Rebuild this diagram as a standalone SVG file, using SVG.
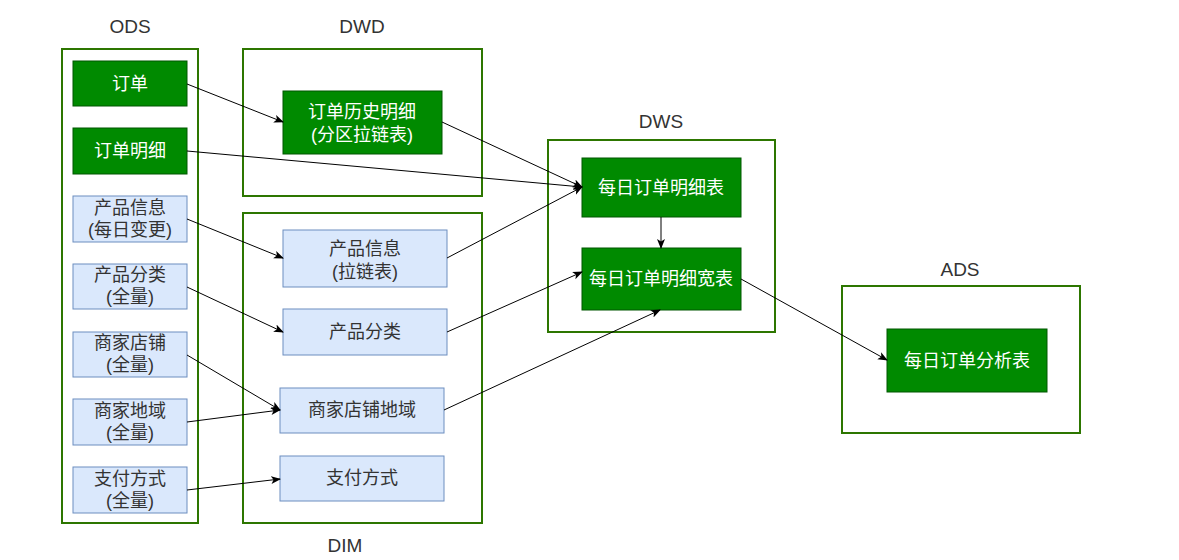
<svg xmlns="http://www.w3.org/2000/svg" width="1179" height="560" viewBox="0 0 1179 560">
<style>
.bg{fill:#ffffff}
.cont{fill:#ffffff;stroke:#2d7600;stroke-width:2}
.gn{fill:#008a00;stroke:#005700;stroke-width:1}
.bn{fill:#dae8fc;stroke:#6c8ebf;stroke-width:1}
.lbl{font-family:"Liberation Sans","Noto Sans CJK SC",sans-serif;font-size:19px;fill:#333333;text-anchor:middle}
.wt{font-family:"Liberation Sans","Noto Sans CJK SC",sans-serif;font-size:18px;fill:#ffffff;text-anchor:middle}
.bt{font-family:"Liberation Sans","Noto Sans CJK SC",sans-serif;font-size:18px;fill:#333333;text-anchor:middle}
.edge{fill:none;stroke:#000000;stroke-width:1;marker-end:url(#arr)}
</style>
<defs>
<marker id="arr" viewBox="0 0 10 10" refX="9" refY="5" markerWidth="10" markerHeight="10" markerUnits="userSpaceOnUse" orient="auto">
<path d="M0,1 L10,5 L0,9 L2.5,5 Z" fill="#000000"/>
</marker>
</defs>
<rect class="bg" x="0" y="0" width="1179" height="560"/>
<g id="containers">
<g id="ods"><rect class="cont" x="62" y="49" width="136" height="474"/><text class="lbl" x="130" y="33">ODS</text></g>
<g id="dwd"><rect class="cont" x="243" y="49" width="239" height="147"/><text class="lbl" x="362" y="33">DWD</text></g>
<g id="dim"><rect class="cont" x="243" y="213" width="239" height="310"/><text class="lbl" x="345" y="552">DIM</text></g>
<g id="dws"><rect class="cont" x="548" y="140" width="227" height="192"/><text class="lbl" x="661" y="128">DWS</text></g>
<g id="ads"><rect class="cont" x="842" y="286" width="238" height="147"/><text class="lbl" x="960" y="276">ADS</text></g>
</g>
<g id="n_order"><rect class="gn" x="73" y="61" width="114" height="45"/><text class="wt" x="130" y="90">订单</text></g>
<g id="n_order_detail"><rect class="gn" x="73" y="128" width="114" height="46"/><text class="wt" x="130" y="157">订单明细</text></g>
<g id="n_prod_info_ods"><rect class="bn" x="73" y="196" width="114" height="46"/><text class="bt" x="130" y="214">产品信息</text><text class="bt" x="130" y="236">(每日变更)</text></g>
<g id="n_prod_cat_ods"><rect class="bn" x="73" y="264" width="114" height="45"/><text class="bt" x="130" y="281">产品分类</text><text class="bt" x="130" y="303">(全量)</text></g>
<g id="n_shop_ods"><rect class="bn" x="73" y="332" width="114" height="45"/><text class="bt" x="130" y="349">商家店铺</text><text class="bt" x="130" y="371">(全量)</text></g>
<g id="n_region_ods"><rect class="bn" x="73" y="399" width="114" height="46"/><text class="bt" x="130" y="417">商家地域</text><text class="bt" x="130" y="439">(全量)</text></g>
<g id="n_pay_ods"><rect class="bn" x="73" y="467" width="114" height="46"/><text class="bt" x="130" y="485">支付方式</text><text class="bt" x="130" y="507">(全量)</text></g>
<g id="n_order_hist"><rect class="gn" x="283" y="91" width="159" height="63"/><text class="wt" x="362" y="118">订单历史明细</text><text class="wt" x="362" y="141">(分区拉链表)</text></g>
<g id="n_prod_info_dim"><rect class="bn" x="283" y="230" width="164" height="57"/><text class="bt" x="365" y="255">产品信息</text><text class="bt" x="365" y="278">(拉链表)</text></g>
<g id="n_prod_cat_dim"><rect class="bn" x="283" y="309" width="164" height="46"/><text class="bt" x="365" y="338">产品分类</text></g>
<g id="n_shop_region_dim"><rect class="bn" x="280" y="388" width="164" height="45"/><text class="bt" x="362" y="416">商家店铺地域</text></g>
<g id="n_pay_dim"><rect class="bn" x="280" y="456" width="164" height="45"/><text class="bt" x="362" y="484">支付方式</text></g>
<g id="n_daily_detail"><rect class="gn" x="582" y="158" width="159" height="59"/><text class="wt" x="661" y="194">每日订单明细表</text></g>
<g id="n_daily_wide"><rect class="gn" x="582" y="248" width="159" height="62"/><text class="wt" x="661" y="285">每日订单明细宽表</text></g>
<g id="n_daily_analysis"><rect class="gn" x="887" y="329" width="160" height="63"/><text class="wt" x="967" y="367">每日订单分析表</text></g>
<g id="connectors">
<path class="edge" d="M187,84 L283,122"/>
<path class="edge" d="M187,151 L582,187"/>
<path class="edge" d="M442,122 L582,187"/>
<path class="edge" d="M187,219 L283,258"/>
<path class="edge" d="M187,287 L283,332"/>
<path class="edge" d="M187,355 L280,410"/>
<path class="edge" d="M187,422 L280,410"/>
<path class="edge" d="M187,490 L280,479"/>
<path class="edge" d="M447,258 L582,187"/>
<path class="edge" d="M447,332 L582,272"/>
<path class="edge" d="M444,410 L660,310"/>
<path class="edge" d="M661,217 L661,248"/>
<path class="edge" d="M741,279 L887,360"/>
</g>
</svg>
